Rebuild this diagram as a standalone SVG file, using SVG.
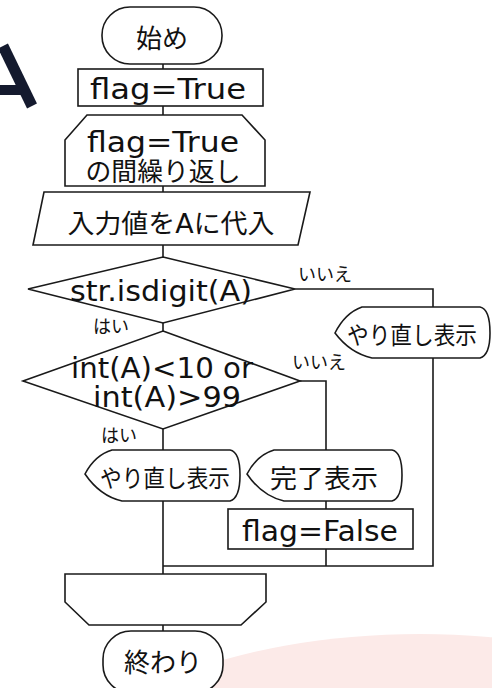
<svg xmlns="http://www.w3.org/2000/svg" width="492" height="688" viewBox="0 0 492 688">
<style>
.s{fill:#fff;stroke:#1a1a1a;stroke-width:1.6}
.c{fill:none;stroke:#1a1a1a;stroke-width:1.6}
text{font-family:"DejaVu Sans","Noto Sans CJK JP",sans-serif;fill:#111;text-anchor:middle}
.t{font-size:26px}
.r{font-size:24px}
.e{font-size:28px}
.l{font-size:18px}
</style>
<rect width="492" height="688" fill="#fff"/>
<g id="decor">
<ellipse cx="420" cy="784" rx="350" ry="150" fill="#fceae8"/>
<line x1="3" y1="46" x2="32" y2="106" stroke="#141a2e" stroke-width="11"/>
<line x1="0" y1="90" x2="22" y2="90" stroke="#141a2e" stroke-width="10"/>
</g>
<g id="connectors">
<path class="c" d="M163,64V69M163,106V115M163,186V192M163,245V257M163,323V331M163,429V450M163,501V574M163,625V631"/>
<path class="c" d="M295,289H433V307M433,358V566H163"/>
<path class="c" d="M300,381H326V450M326,501V509M326,549V566"/>
</g>
<g id="start">
<rect class="s" x="102" y="7" width="120" height="57" rx="28" ry="28"/>
<text class="t" x="162" y="48">始め</text>
</g>
<g id="init">
<rect class="s" x="78" y="69" width="185" height="37"/>
<text class="e" x="168" y="99" textLength="156" lengthAdjust="spacingAndGlyphs">flag=True</text>
</g>
<g id="loopStart">
<path class="s" d="M65,140L87,115H242L265,140V186H65Z"/>
<text class="e" x="163" y="152" textLength="152" lengthAdjust="spacingAndGlyphs">flag=True</text>
<text class="t" x="163" y="181" textLength="155" lengthAdjust="spacingAndGlyphs">の間繰り返し</text>
</g>
<g id="input">
<path class="s" d="M44,192H310L298,245H33Z"/>
<text class="t" x="171" y="233" textLength="207" lengthAdjust="spacingAndGlyphs">入力値をAに代入</text>
</g>
<g id="check1">
<path class="s" d="M163,257L295,289L163,323L28,289Z"/>
<text class="e" x="161" y="301" textLength="182" lengthAdjust="spacingAndGlyphs">str.isdigit(A)</text>
</g>
<g id="check2">
<path class="s" d="M163,331L300,381L163,429L23,381Z"/>
<text class="e" x="162" y="378" textLength="182" lengthAdjust="spacingAndGlyphs">int(A)&lt;10 or</text>
<text class="e" x="167" y="407" textLength="148" lengthAdjust="spacingAndGlyphs">int(A)&gt;99</text>
</g>
<g id="labels">
<text class="l" x="325" y="281">いいえ</text>
<text class="l" x="111" y="333">はい</text>
<text class="l" x="319" y="369">いいえ</text>
<text class="l" x="119" y="442">はい</text>
</g>
<g id="retry1">
<path class="s" d="M335,333Q345,313 362,307H480Q490,309 490,333Q490,355 480,358H372Q350,353 335,333Z"/>
<text class="r" x="412" y="344" textLength="130" lengthAdjust="spacingAndGlyphs">やり直し表示</text>
</g>
<g id="retry2">
<path class="s" d="M85,474Q95,455 112,450H230Q240,452 240,475Q240,498 230,501H122Q100,496 85,474Z"/>
<text class="r" x="165" y="487" textLength="130" lengthAdjust="spacingAndGlyphs">やり直し表示</text>
</g>
<g id="done">
<path class="s" d="M247,474Q257,455 274,450H392Q402,452 402,475Q402,498 392,501H284Q262,496 247,474Z"/>
<text class="t" x="324" y="488" textLength="108" lengthAdjust="spacingAndGlyphs">完了表示</text>
</g>
<g id="setFalse">
<rect class="s" x="228" y="509" width="185" height="40"/>
<text class="e" x="320" y="541" textLength="156" lengthAdjust="spacingAndGlyphs">flag=False</text>
</g>
<g id="loopEnd">
<path class="s" d="M65,574H266V602L241,625H89L65,602Z"/>
</g>
<g id="end">
<rect class="s" x="103" y="631" width="120" height="62" rx="28" ry="28"/>
<text class="t" x="163" y="672">終わり</text>
</g>
</svg>
